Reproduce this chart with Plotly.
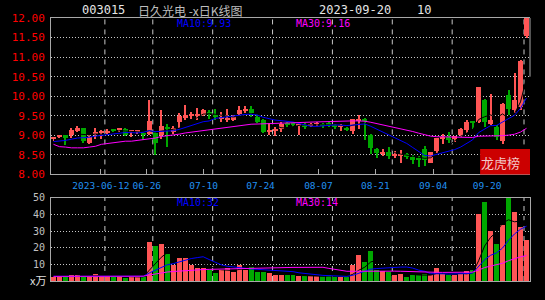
import numpy as np
import pandas as pd
import plotly.graph_objects as go

# ---------------- data ----------------
tick_labels = ["2023-06-12", "06-26", "07-10", "07-24", "08-07", "08-21", "09-04", "09-20"]

opens = [8.91, 8.96, 9.00, 9.00, 9.10, 9.18, 8.81, 9.05, 9.06, 9.08,
         9.16, 9.15, 9.16, 9.09, 9.09, 9.07, 9.03, 9.07, 9.02, 9.19,
         9.08, 9.33, 9.45, 9.50, 9.51, 9.53, 9.57, 9.50, 9.42, 9.40,
         9.40, 9.55, 9.64, 9.68, 9.47, 9.39, 9.10, 9.12, 9.17, 9.31,
         9.30, 9.24, 9.27, 9.26, 9.29, 9.27, 9.30, 9.25, 9.23, 9.20,
         9.10, 9.37, 9.40, 9.00, 8.66, 8.51, 8.58, 8.49, 8.48, 8.53,
         8.44, 8.39, 8.66, 8.30, 8.60, 8.92, 8.97, 8.91, 9.00, 9.14,
         9.35, 9.33, 9.91, 9.29, 9.22, 8.85, 10.02, 9.64, 9.73, 11.53]
highs = [8.97, 9.01, 9.01, 9.18, 9.23, 9.18, 9.00, 9.18, 9.14, 9.15,
         9.16, 9.18, 9.18, 9.14, 9.14, 9.09, 9.90, 9.11, 9.65, 9.28,
         9.24, 9.56, 9.78, 9.60, 9.70, 9.67, 9.65, 9.68, 9.60, 9.68,
         9.53, 9.75, 9.75, 9.75, 9.54, 9.43, 9.32, 9.21, 9.33, 9.34,
         9.31, 9.30, 9.31, 9.32, 9.35, 9.31, 9.35, 9.29, 9.28, 9.21,
         9.43, 9.52, 9.45, 9.03, 8.68, 8.65, 8.70, 8.60, 8.63, 8.54,
         8.50, 8.46, 8.72, 8.58, 8.93, 9.04, 9.08, 8.99, 9.18, 9.38,
         9.37, 10.24, 9.93, 10.06, 9.26, 9.82, 10.16, 10.60, 10.92, 12.00]
lows = [8.86, 8.93, 8.74, 8.92, 9.08, 8.80, 8.78, 8.91, 8.91, 9.02,
        9.11, 9.08, 8.98, 8.96, 9.03, 8.88, 9.00, 8.50, 8.91, 8.69,
        9.03, 9.18, 9.39, 9.41, 9.40, 9.50, 9.43, 9.38, 9.35, 9.33,
        9.36, 9.52, 9.57, 9.48, 9.31, 9.07, 9.02, 8.98, 9.08, 9.21,
        9.22, 9.02, 9.17, 9.21, 9.23, 9.18, 9.21, 9.17, 9.10, 9.10,
        9.03, 9.16, 8.89, 8.52, 8.43, 8.46, 8.40, 8.43, 8.30, 8.40,
        8.27, 8.20, 8.22, 8.28, 8.56, 8.78, 8.80, 8.82, 8.95, 9.06,
        9.17, 9.31, 9.22, 9.27, 8.89, 8.77, 9.52, 9.56, 9.64, 11.50]
closes = [8.93, 8.97, 8.95, 9.13, 9.18, 8.85, 8.95, 9.06, 9.12, 9.12,
          9.13, 9.16, 9.02, 9.10, 9.10, 9.02, 9.36, 8.81, 9.24, 9.18,
          9.18, 9.50, 9.53, 9.52, 9.52, 9.64, 9.55, 9.47, 9.43, 9.42,
          9.47, 9.66, 9.66, 9.56, 9.33, 9.08, 9.12, 9.17, 9.28, 9.27,
          9.27, 9.28, 9.23, 9.29, 9.30, 9.24, 9.28, 9.22, 9.24, 9.14,
          9.41, 9.42, 9.37, 8.68, 8.56, 8.58, 8.46, 8.50, 8.50, 8.44,
          8.37, 8.38, 8.37, 8.57, 8.92, 8.93, 8.89, 8.98, 9.15, 9.33,
          9.32, 10.24, 9.33, 9.39, 8.97, 9.81, 9.68, 9.91, 10.91, 12.00]
volumes = [2.2, 2.2, 2.4, 3.7, 3.7, 2.8, 3.2, 4.3, 3.2, 3.2,
           2.6, 3.0, 2.0, 2.2, 2.2, 2.6, 23.3, 20.9, 22.3, 16.2,
           9.9, 13.8, 13.8, 9.9, 7.9, 7.9, 6.5, 5.1, 6.5, 7.7,
           5.7, 9.7, 6.9, 8.5, 5.7, 5.7, 5.1, 3.9, 3.9, 3.4,
           3.4, 2.8, 2.8, 2.8, 2.8, 2.8, 3.6, 2.4, 2.2, 2.2,
           9.9, 15.8, 11.6, 17.9, 6.7, 5.9, 5.5, 3.9, 4.3, 2.6,
           3.4, 3.7, 4.5, 3.4, 7.9, 4.1, 3.9, 3.4, 4.1, 6.1,
           6.7, 40.6, 47.5, 30.4, 22.3, 33.5, 50.4, 41.6, 32.3, 24.5]

# moving-average values at the start of the window (read off the picture,
# their windows reach back before the first visible bar)
ma10_head = [8.84, 8.85, 8.87, 8.90, 8.93, 8.94, 8.95, 8.98, 9.00]
ma30_head = [8.77, 8.71, 8.70, 8.68, 8.68, 8.68, 8.70, 8.72, 8.77, 8.79,
             8.81, 8.82, 8.85, 8.85, 8.87, 8.89, 8.91, 8.93, 8.97, 8.99,
             9.00, 9.03, 9.06, 9.08, 9.11, 9.13, 9.15, 9.16, 9.18]
vma10_head = [2.8, 2.8, 2.8, 2.8, 2.9, 2.9, 2.9, 3.0, 3.0]
vma30_head = [2.8, 2.8, 2.8, 2.8, 2.8, 2.8, 2.8, 2.8, 2.8, 2.8,
              2.8, 2.8, 2.8, 2.8, 2.8, 2.9, 3.6, 4.3, 4.9, 5.4,
              5.7, 6.0, 6.3, 6.5, 6.7, 6.9, 7.0, 7.1, 7.2]

header_code = "003015"
header_name = "日久光电 -x日K线图"
header_date = "2023-09-20"
header_num = "10"
ma_price_labels = ["MA10:9.93", "MA30:9.16"]
ma_vol_labels = ["MA10:32", "MA30:14"]
vol_unit = "x万"
badge_text = "龙虎榜"

# ---------------- derived ----------------
o = np.array(opens); h = np.array(highs); l = np.array(lows); c = np.array(closes)
v = np.array(volumes)
n = len(c)
idx = np.arange(n)

RED = "#ff5555"
GREEN = "#00a800"
AX = "#a8a8a8"
GRID = "#c8c8c8"
MONO = "DejaVu Sans Mono"
CJK = "Noto Sans CJK SC"

cols = np.where(c >= o, RED, GREEN)

def ma(values, w, head=None):
    s = pd.Series(values).rolling(w).mean()
    if head is not None:
        s.iloc[:len(head)] = head
    return s.values

ma5 = ma(c, 5)
ma10 = ma(c, 10, ma10_head)
ma30 = ma(c, 30, ma30_head)
vma5 = ma(v, 5)
vma10 = ma(v, 10, vma10_head)
vma30 = ma(v, 30, vma30_head)

fig = go.Figure()

# candles: wicks then bodies
fig.add_trace(go.Bar(x=idx, base=l, y=h - l, width=1 / 6,
                     marker=dict(color=cols, line=dict(width=0)),
                     xaxis="x", yaxis="y", hoverinfo="skip"))
body_base = np.minimum(o, c)
body_h = np.maximum(np.abs(c - o), 0.025)
fig.add_trace(go.Bar(x=idx, base=body_base, y=body_h, width=5 / 6,
                     marker=dict(color=cols, line=dict(width=0)),
                     xaxis="x", yaxis="y", hoverinfo="skip"))

for series, colr in ((ma5, "#000000"), (ma10, "#0000ff"), (ma30, "#ff00ff")):
    fig.add_trace(go.Scatter(x=idx, y=series, mode="lines",
                             line=dict(color=colr, width=1),
                             xaxis="x", yaxis="y", hoverinfo="skip"))

# volume
fig.add_trace(go.Bar(x=idx, y=v, width=5 / 6,
                     marker=dict(color=cols, line=dict(width=0)),
                     xaxis="x2", yaxis="y2", hoverinfo="skip"))
for series, colr in ((vma5, "#000000"), (vma10, "#0000ff"), (vma30, "#ff00ff")):
    fig.add_trace(go.Scatter(x=idx, y=series, mode="lines",
                             line=dict(color=colr, width=1),
                             xaxis="x2", yaxis="y2", hoverinfo="skip"))

# ---------------- layout ----------------
L, R, T, B = 50, 15, 17, 14
W, H = 545, 300
PH = H - T - B  # plot height in px

def py(pxy):  # pixel y -> paper y
    return (H - B - pxy) / PH

def px(pxx):  # pixel x -> paper x
    return (pxx - L) / (W - L - R)

x_range = [-2.5 / 6, n - 2.5 / 6]
tick_pos = [7.92, 15.58, 25.08, 34.58, 44.25, 53.75, 63.42, 72.42]
grid_bars = [9, 17, 27, 37, 47, 57, 67, 79]

fig.update_layout(
    width=W, height=H,
    margin=dict(l=L, r=R, t=T, b=B, pad=0),
    paper_bgcolor="#000000", plot_bgcolor="#000000",
    showlegend=False, barmode="overlay", bargap=0,
    xaxis=dict(domain=[0, 1], anchor="y", range=x_range, showgrid=False,
               zeroline=False, showline=True, linecolor=AX, linewidth=1,
               mirror=True, ticks="inside", ticklen=5, tickcolor=AX,
               tickvals=tick_pos, ticktext=tick_labels,
               tickfont=dict(family=MONO, size=9.5, color="#2090f0"),
               ticklabelstandoff=2),
    yaxis=dict(domain=[py(177), 1], anchor="x", range=[8, 12],
               tickvals=[8, 8.5, 9, 9.5, 10, 10.5, 11, 11.5, 12],
               tickformat=".2f",
               tickfont=dict(family=MONO, size=11, color="#ff0000"),
               showgrid=True, gridcolor=GRID, griddash="1px,2px", gridwidth=1,
               zeroline=False, showline=True, linecolor=AX, linewidth=1,
               ticks="", ticklabelstandoff=3),
    xaxis2=dict(domain=[0, 1], anchor="y2", range=x_range, matches="x",
                showticklabels=False, showgrid=False, zeroline=False,
                showline=True, linecolor=AX, mirror=True, ticks="",
                layer="below traces"),
    yaxis2=dict(domain=[0, py(201)], anchor="x2", range=[0, 50],
                tickvals=[10, 20, 30, 40, 50],
                tickfont=dict(family=MONO, size=10, color="#c0c0c0"),
                showgrid=True, gridcolor=GRID, griddash="1px,2px", gridwidth=1,
                zeroline=False, showline=True, linecolor=AX, mirror=True,
                ticks="", ticklabelstandoff=3, layer="below traces"),
)

shapes = []
for b in grid_bars:
    for yr in ("y domain", "y2 domain"):
        shapes.append(dict(type="line", xref="x", yref=yr,
                           x0=b - 2.5 / 6, x1=b - 2.5 / 6, y0=0, y1=1,
                           line=dict(color=GRID, width=1, dash="5px,5px"),
                           layer="below"))
# partial right border of the price panel
shapes.append(dict(type="line", xref="x domain", yref="y", x0=1, x1=1,
                   y0=10.5, y1=12, line=dict(color=AX, width=1)))
# red badge
shapes.append(dict(type="rect", xref="paper", yref="paper",
                   x0=px(480), x1=px(530), y0=py(177), y1=py(151),
                   fillcolor="#cc0000", line=dict(width=0), layer="above"))
fig.update_layout(shapes=shapes)

ann = []
def text(t, x, y, size, color, family=MONO, anchor="left"):
    ann.append(dict(text=t, x=px(x), y=py(y), xref="paper", yref="paper",
                    xanchor=anchor, yanchor="middle", showarrow=False,
                    font=dict(family=family, size=size, color=color),
                    borderpad=0))

text(header_code, 80, 9, 12, "#e6e6e6")
text(header_name, 136, 9, 12, "#bdbdbd", family=CJK)
text(header_date, 318, 9, 12, "#e6e6e6")
text(header_num, 416, 9, 12, "#e6e6e6")
text(ma_price_labels[0], 175, 23, 10, "#0000ff")
text(ma_price_labels[1], 295, 23, 10, "#ff00ff")
text(ma_vol_labels[0], 175, 206, 10, "#0000ff")
text(ma_vol_labels[1], 295, 206, 10, "#ff00ff")
text(vol_unit, 46, 285, 11, "#e0e0e0", family=CJK, anchor="right")
text(badge_text, 500, 165, 13, "#f2c8c8", family=CJK, anchor="center")
fig.update_layout(annotations=ann)

fig.write_html("out.html", config={"displayModeBar": False})
